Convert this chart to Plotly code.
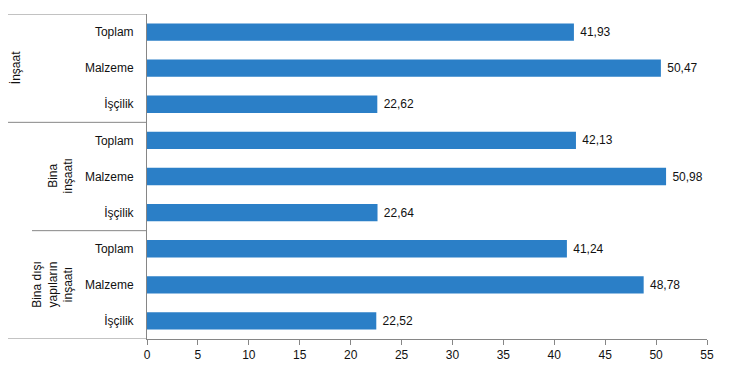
import plotly.graph_objects as go

groups = ["İnşaat", "Bina<br>inşaatı", "Bina dışı<br>yapıların<br>inşaatı"]
categories = ["Toplam", "Malzeme", "İşçilik"]
values_insaat = [41.93, 50.47, 22.62]
values_bina = [42.13, 50.98, 22.64]
values_bina_disi = [41.24, 48.78, 22.52]
x_ticks = [0, 5, 10, 15, 20, 25, 30, 35, 40, 45, 50, 55]

series = [values_insaat, values_bina, values_bina_disi]
ys, xs, labels = [], [], []
for g, vals in enumerate(series):
    for c, v in enumerate(vals):
        ys.append(g * len(categories) + c)
        xs.append(v)
        labels.append(categories[c])
texts = ["\u00a0" + f"{v:.2f}".replace(".", ",") for v in xs]

BAR = "#2B7FC7"
AXIS = "#868686"
FONT = "Liberation Sans, Arial, sans-serif"
TXT = "#111"

fig = go.Figure(go.Bar(
    x=xs, y=ys, orientation="h", marker=dict(color=BAR, line=dict(width=0)),
    text=texts, textposition="outside", cliponaxis=False,
    textfont=dict(family=FONT, size=12, color=TXT),
    width=0.48, hoverinfo="skip",
))

n = len(ys)
# page body has an 8px margin; compensate so the plot lands where the reference has it
OFF = 8
W, H = 730 - OFF, 369 - OFF
L, T = 147 - OFF, 14 - OFF
R = W - (707 - OFF)
B = H - (339 - OFF)
pw = W - L - R

shapes = []
starts = [5, 5, 32, 5]
for k, gy in enumerate([i * len(categories) - 0.5 for i in range(len(groups) + 1)]):
    shapes.append(dict(type="line", xref="paper", yref="y",
                       x0=(starts[k] - 147) / pw, x1=0, y0=gy, y1=gy,
                       line=dict(color=AXIS, width=1)))

annotations = []
centers = [16, 60, 53]
for g, name in enumerate(groups):
    annotations.append(dict(x=0, xref="paper", y=g * len(categories) + 1, yref="y",
                            xshift=centers[g] - 147, text=name, textangle=-90,
                            showarrow=False, xanchor="center", yanchor="middle",
                            font=dict(family=FONT, size=12, color=TXT)))

fig.update_layout(
    width=W, height=H, margin=dict(l=L, r=R, t=T, b=B, autoexpand=False),
    plot_bgcolor="white", paper_bgcolor="white", showlegend=False,
    font=dict(family=FONT, size=12, color=TXT),
    shapes=shapes, annotations=annotations,
    xaxis=dict(range=[0, 55], tickvals=x_ticks, ticktext=[str(t) for t in x_ticks],
               showgrid=False, zeroline=False, showline=True, linecolor=AXIS,
               ticks="outside", ticklen=5, tickcolor=AXIS, automargin=False,
               tickfont=dict(family=FONT, size=12, color=TXT)),
    yaxis=dict(range=[n - 0.5, -0.5], tickvals=ys, ticktext=labels,
               showgrid=False, zeroline=False, showline=True, linecolor=AXIS,
               ticks="", ticklabelstandoff=10, automargin=False,
               tickfont=dict(family=FONT, size=12, color=TXT)),
)

fig.write_html("out.html")
